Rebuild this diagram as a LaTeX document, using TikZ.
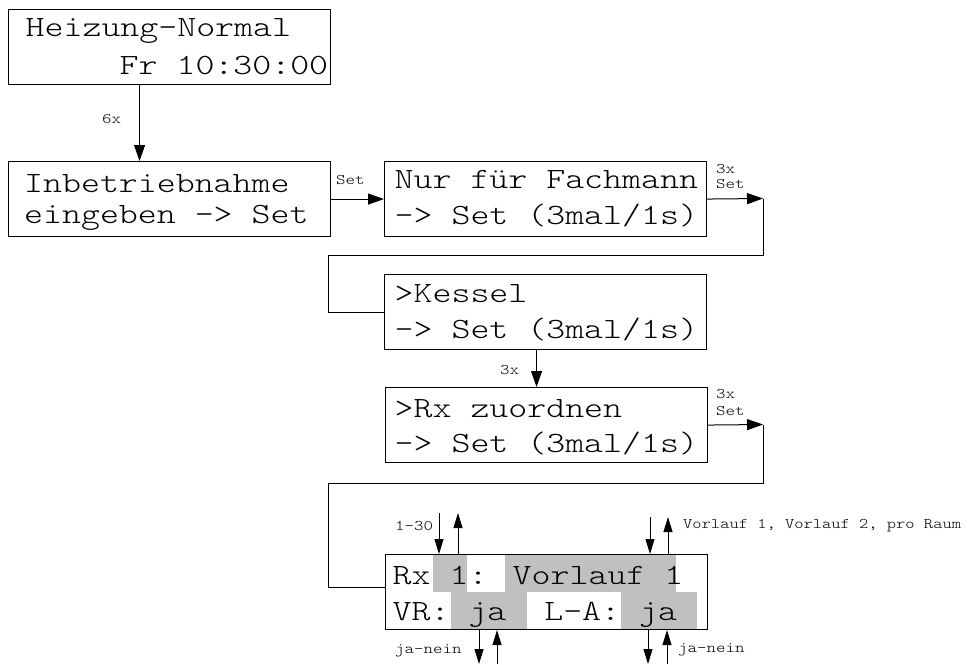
\documentclass[tikz,border=0pt]{standalone}
\usepackage{fontspec}
\usepackage{graphicx}
\newfontfamily\lcdfont{lmmonolt10-regular}[Extension=.otf]
\usetikzlibrary{arrows.meta}
\definecolor{hlgray}{RGB}{192,192,192}
\newcommand\lcdw[1]{\scalebox{1.228}[1]{#1}}
\newcommand\lcdn[1]{\scalebox{1.2}[1]{#1}}
\begin{document}
\begin{tikzpicture}[x=1pt,y=-1pt,
  box/.style={draw=black, line width=1.1pt, anchor=north west, minimum width=322pt, minimum height=75pt, inner sep=0pt},
  big/.style={font=\lcdfont\fontsize{29.4pt}{34pt}\selectfont, inner sep=0pt, anchor=base west},
  small/.style={font=\lcdfont\fontsize{14.7pt}{17pt}\selectfont, inner sep=0pt, anchor=mid west},
  conn/.style={line width=1pt},
  arr/.style={conn, -{Triangle[length=16pt,width=11pt]}},
  sarr/.style={conn, -{Triangle[length=15pt,width=9pt]}},
  hl/.style={fill=hlgray, draw=none}
]
\useasboundingbox (0,0) rectangle (971,664);

% highlighted fields in the last display
\fill[hl] (433,554) rectangle (467,592);
\fill[hl] (505,554) rectangle (676,592);
\fill[hl] (451,592) rectangle (527,629);
\fill[hl] (621,592) rectangle (697,629);

% boxes
\node[box] (b1) at (8,9) {};
\node[box] (b2) at (8,161) {};
\node[box] (b3) at (384,161) {};
\node[box] (b4) at (384,274) {};
\node[box] (b5) at (385,387) {};
\node[box] (b6) at (385,554) {};

% texts
\node[big] (t1a) at (25.5,36.5) {\lcdw{Heizung-Normal}};
\node[big] (t1b) at (119.5,74) {\lcdw{Fr 10:30:00}};
\node[big] (t2a) at (24,192.5) {\lcdw{Inbetriebnahme}};
\node[big] (t2b) at (24,223) {\lcdw{eingeben -> Set}};
\node[big] (t3a) at (394.5,188) {\lcdw{Nur für Fachmann}};
\node[big] (t3b) at (394.5,224) {\lcdw{-> Set (3mal/1s)}};
\node[big] (t4a) at (394.5,302) {\lcdw{>Kessel}};
\node[big] (t4b) at (394.5,338) {\lcdw{-> Set (3mal/1s)}};
\node[big] (t5a) at (394.5,417) {\lcdw{>Rx zuordnen}};
\node[big] (t5b) at (394.5,452) {\lcdw{-> Set (3mal/1s)}};
\node[big] (t6a) at (392.5,584) {\lcdw{Rx 1: Vorlauf 1}};
\node[big] (t6b) at (392.5,620) {\lcdw{VR: ja\ \ L-A: ja}};

% main connectors
\draw[arr] ([xshift=-30pt]b1.south) -- ([xshift=-30pt]b2.north);
\node[small] (l1) at (102,121) {\lcdw{6x}};

\draw[arr] (b2.east) -- (b3.west);
\node[small] (l2) at (336,182) {\lcdw{Set}};

\coordinate (c1) at (763,198.5);
\coordinate (c2) at (763,255);
\coordinate (c3) at (328,255);
\draw[arr] (b3.east) -- (c1);
\draw[conn] (c1) -- (c2) -- (c3) |- (b4.west);
\node[small] (l3a) at (716,171) {\lcdw{3x}};
\node[small] (l3b) at (716,186) {\lcdw{Set}};

\draw[arr] ([xshift=-9pt]b4.south) -- ([xshift=-9pt]b4.south |- b5.north);
\node[small] (l4) at (500,372) {\lcdw{3x}};

\coordinate (d1) at (763,424.5);
\coordinate (d2) at (763,483);
\coordinate (d3) at (328,483);
\coordinate (d4) at (328,587);
\draw[arr] (b5.east) -- (d1);
\draw[conn] (d1) -- (d2) -- (d3) -- (d4) -- (d4 -| b6.west);
\node[small] (l5a) at (716,396) {\lcdw{3x}};
\node[small] (l5b) at (716,413) {\lcdw{Set}};

% small arrows above
\coordinate (p1) at (439,513);
\coordinate (p2) at (458,513);
\coordinate (p3) at (650,517);
\coordinate (p4) at (668,517);
\draw[sarr] (p1) -- (p1 |- b6.north);
\draw[sarr] (p2 |- b6.north) -- (p2);
\draw[sarr] (p3) -- (p3 |- b6.north);
\draw[sarr] (p4 |- b6.north) -- (p4);
\node[small] (l6) at (395,528) {\lcdw{1-30}};
\node[small] (l7) at (683,526) {\lcdn{Vorlauf 1, Vorlauf 2, pro Raum}};

% small arrows below
\coordinate (q1) at (479,664);
\coordinate (q2) at (497,664);
\coordinate (q3) at (648,664);
\coordinate (q4) at (667,664);
\draw[sarr] (q1 |- b6.south) -- (q1);
\draw[sarr] (q2) -- (q2 |- b6.south);
\draw[sarr] (q3 |- b6.south) -- (q3);
\draw[sarr] (q4) -- (q4 |- b6.south);
\node[small] (l8) at (395,651) {\lcdw{ja-nein}};
\node[small] (l9) at (678,650) {\lcdw{ja-nein}};
\end{tikzpicture}
\end{document}
